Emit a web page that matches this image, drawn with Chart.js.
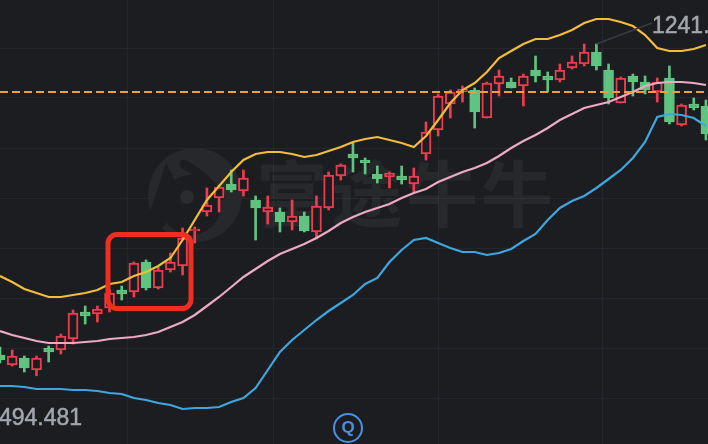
<!DOCTYPE html>
<html>
<head>
<meta charset="utf-8">
<style>
  html, body { margin: 0; padding: 0; background: #1c1d21; }
  #wrap { position: relative; width: 708px; height: 444px; overflow: hidden; }
  canvas { display: block; }
</style>
</head>
<body>
<div id="wrap"><canvas id="kline" width="708" height="444"></canvas></div>
<script src="https://cdn.jsdelivr.net/npm/chart.js@4/dist/chart.umd.min.js"></script>
<script>
const opens = [541.25,518.75,534.5,507.5,557,552.5,577.25,638,633.5,647,
  687.5,683,750.5,692,732.5,741.5,820.25,863,894.5,926,
  910.25,890,863,863,840.5,854,818,872,944,993.5,
  980,948.5,941.75,944,926,993.5,1047.5,1106,1133,1137.5,
  1074.5,1151,1155.5,1146.5,1182.5,1169,1160,1187,1196,1223,
  1182.5,1108.25,1169,1155.5,1133,1164.5,1058.75,1106,1101.5];
const closes = [530,539,512,534.5,548,584,635.75,629,644.75,680.75,
  678.5,748.25,692,732.5,750.5,804.5,824.75,878.75,919.25,912.5,
  939.5,872,874.25,840.5,854,820.25,876.5,946.25,968.75,984.5,
  973.25,937.25,950.75,935,944,1043,1124,1133,1139.75,1088,
  1153.25,1169,1142,1169,1169,1160,1182.5,1200.5,1223,1191.5,
  1119.5,1164.5,1155.5,1137.5,1155.5,1065.5,1103.75,1097,1038.5];
const highs = [559.25,552.5,539,539,561.5,588.5,642.5,651.5,651.5,687.5,
  696.5,750.5,755,739.25,770.75,827,829.25,917,923.75,957.5,
  957.5,899,899,872,890,863,899,953,971,1020.5,
  984.5,966.5,953,966.5,962,1065.5,1128.5,1137.5,1146.5,1142,
  1155.5,1182.5,1164.5,1173.5,1214,1178,1196,1214,1241,1241,
  1196,1166.75,1173.5,1169,1164.5,1191.5,1106,1119.5,1115];
const lows = [523.25,516.5,503,494.481,525.5,543.5,566,611,615.5,638,
  665,671.75,687.5,689.75,728,721.25,793.25,854,863,908,
  899,800,836,818,822.5,818,802.25,867.5,935,953,
  948.5,928.25,917,926,908,980,1034,1074.5,1110.5,1052,
  1074.5,1124,1142,1101.5,1155.5,1133,1155.5,1184.75,1191.5,1182.5,
  1106,1108.25,1124,1128.5,1110.5,1061,1056.5,1092.5,1025];

// bollinger bands
const upperBand = [719,705.5,689.75,680.75,671.75,671.75,676.25,680.75,687.5,701,
  705.5,719,728,741.5,759.5,800,845,890,921.5,953,
  980,993.5,998,998,993.5,986.75,991.25,1000.25,1009.25,1020.5,
  1027.25,1031.75,1025,1018.25,1009.25,1034,1070,1108.25,1137.5,1153.25,
  1178,1209.5,1225.25,1241,1252.25,1252.25,1261.25,1272.5,1288.25,1297.25,
  1297.25,1290.5,1281.5,1261.25,1232,1225.25,1225.25,1229.75,1238.75];
const middleBand = [595.25,586.25,579.5,572.75,568.25,568.25,568.25,570.5,572.75,577.25,
  579.5,581.75,586.25,593,604.25,615.5,631.25,651.5,671.75,694.25,
  716.75,734.75,752.75,768.5,779.75,791,804.5,820.25,838.25,851.75,
  863,872,881,894.5,905.75,914.75,930.5,941.75,953,962,
  973.25,989,1007,1022.75,1036.25,1052,1070,1083.5,1097,1103.75,
  1110.5,1121.75,1133,1146.5,1153.25,1155.5,1155.5,1153.25,1148.75];
const lowerBand = [471.5,471.5,469.25,464.75,464.75,464.75,462.5,462.5,460.25,455.75,
  453.5,444.5,440,433.25,428.75,419.75,422,422,424.25,435.5,
  444.5,467,507.5,548,575,597.5,620,640.25,658.25,676.25,
  701,714.5,750.5,777.5,800,804.5,793.25,782,773,773,
  766.25,770.75,779.75,797.75,813.5,845,872,887.75,899,917,
  937.25,957.5,984.5,1020.5,1076.75,1083.5,1081.25,1074.5,1056.5];

const lastPrice = 1133;
const gridPrices = [1232,1119.5,1007,894.5,782,669.5,557,444.5];
const gridCandles = [5,16,29,43,56];
const highLabel = '1241.';
const lowLabel = '494.481';
const watermark = '富途牛牛';

const RED = '#ee3b4d', GREEN = '#5fc47f', BG = '#1c1d21';
const candleColor = opens.map((o, i) => closes[i] >= o ? RED : GREEN);
const indexed = arr => arr.map((v, i) => ({ x: i, y: v }));
const band = (label, data, color) => ({
  type: 'line', label, data: indexed(data), borderColor: color, borderWidth: 2.2,
  pointRadius: 0, tension: 0, order: 1
});

const overlayPlugin = {
  id: 'overlay',
  beforeDatasetsDraw(chart) {
    const c = chart.ctx;
    c.save();
    // 水印
    c.fillStyle = '#27282c';
    c.beginPath(); c.arc(195, 195, 47, 0, Math.PI * 2); c.fill();
    c.fillStyle = BG;
    c.beginPath(); c.arc(191, 205, 30, 0, Math.PI * 2); c.fill();
    c.beginPath(); c.moveTo(166, 163); c.lineTo(176, 183); c.lineTo(172, 215); c.lineTo(157, 236); c.lineTo(150, 212); c.closePath(); c.fill();
    c.strokeStyle = BG; c.lineWidth = 9; c.lineCap = 'round';
    c.beginPath(); c.moveTo(184, 164); c.quadraticCurveTo(205, 176, 221, 196); c.stroke();
    c.fillStyle = '#2b2c30';
    c.beginPath(); c.arc(187, 197, 7, 0, Math.PI * 2); c.fill();
    c.fillStyle = 'rgba(255,255,255,0.05)';
    c.font = 'bold 72px "Noto Sans CJK SC"';
    c.textBaseline = 'alphabetic';
    c.letterSpacing = '3px';
    c.fillText(watermark, 256, 221);
    c.restore();
  },
  afterDraw(chart) {
    const c = chart.ctx, sx = chart.scales.x, sy = chart.scales.y;
    c.save();
    // 最高价引线
    c.strokeStyle = '#3a3c42'; c.lineWidth = 1.5;
    c.beginPath();
    c.moveTo(sx.getPixelForValue(highs.indexOf(1241) + 1), sy.getPixelForValue(1241));
    c.lineTo(652, 23);
    c.stroke();
    c.fillStyle = '#a3a6ad'; c.strokeStyle = '#a3a6ad'; c.lineWidth = 0.5;
    c.font = '23px "Liberation Sans"';
    c.fillText(highLabel, 652, 33); c.strokeText(highLabel, 652, 33);
    c.fillText(lowLabel, -1, 425); c.strokeText(lowLabel, -1, 425);
    // 红框
    c.strokeStyle = '#ee2e20'; c.lineWidth = 5;
    c.beginPath(); c.roundRect(108, 234.5, 83, 74, 9); c.stroke();
    // Q 图标
    c.strokeStyle = '#4a90e8'; c.lineWidth = 2;
    c.beginPath(); c.arc(348, 428, 14, 0, Math.PI * 2); c.stroke();
    c.fillStyle = '#4a90e8';
    c.font = 'bold 17px "Liberation Sans"';
    c.textAlign = 'center';
    c.fillText('Q', 348, 433);
    c.restore();
  }
};

new Chart(document.getElementById('kline'), {
  data: {
    datasets: [
      band('UPPER', upperBand, '#f3bd3c'),
      band('MID', middleBand, '#eeaac2'),
      band('LOWER', lowerBand, '#3fa7e0'),
      {
        type: 'line', label: 'last', data: [{ x: 0, y: lastPrice }, { x: 60, y: lastPrice }],
        borderColor: '#ee9d3c', borderWidth: 2, borderDash: [8, 4],
        pointRadius: 0, order: 0
      },
      {
        type: 'bar', label: 'body',
        data: opens.map((o, i) => ({ x: i, y: [o, closes[i]] })),
        backgroundColor: candleColor.map(c => c === RED ? BG : GREEN),
        borderColor: candleColor, borderWidth: 2, borderSkipped: false,
        barThickness: 10, grouped: false, order: 2
      },
      {
        type: 'bar', label: 'wick',
        data: lows.map((l, i) => ({ x: i, y: [l, highs[i]] })),
        backgroundColor: candleColor, borderWidth: 0,
        barThickness: 2, grouped: false, order: 3
      }
    ]
  },
  options: {
    responsive: false, animation: false,
    layout: { padding: 0 },
    plugins: { legend: { display: false }, tooltip: { enabled: false } },
    scales: {
      x: {
        type: 'linear', min: 0, max: 58.17, offset: false,
        border: { display: false },
        grid: { color: '#25262b', drawTicks: false },
        ticks: { display: false },
        afterBuildTicks: s => { s.ticks = gridCandles.map(v => ({ value: v })); }
      },
      y: {
        min: 341, max: 1340,
        border: { display: false },
        grid: { color: '#25262b', drawTicks: false },
        ticks: { display: false },
        afterBuildTicks: s => { s.ticks = gridPrices.map(v => ({ value: v })); }
      }
    }
  },
  plugins: [overlayPlugin]
});
</script>
</body>
</html>
